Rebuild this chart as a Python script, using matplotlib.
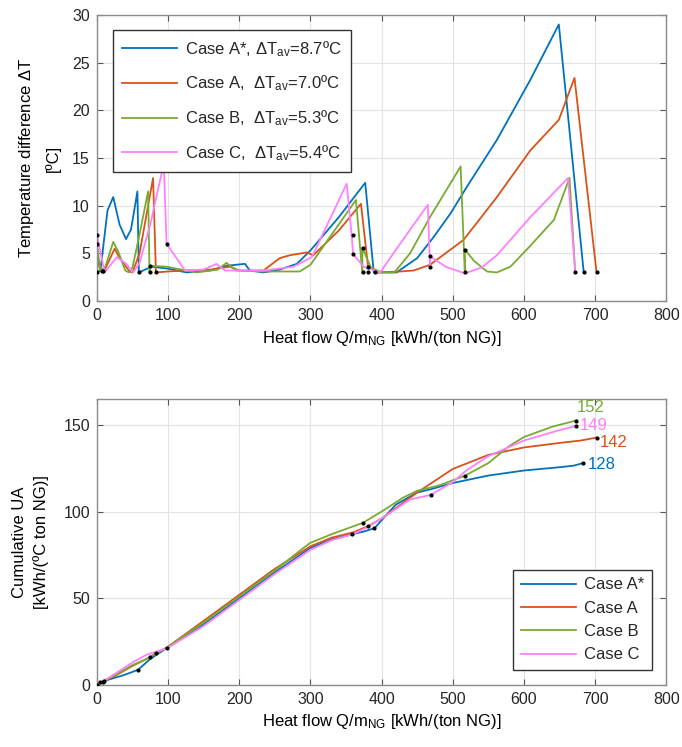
import matplotlib
matplotlib.use("Agg")
import matplotlib.pyplot as plt
from matplotlib import font_manager

# ---- data: top panel, temperature difference along the heat flow ----
dt_x = {
    "A*": [0, 5, 15, 23, 32, 41, 48, 57, 59, 77, 100, 126, 159, 182, 208, 215, 234, 257, 281, 300,
           340, 377, 389, 421, 450, 473, 497, 520, 562, 609, 649, 684],
    "A": [0, 5, 12, 25, 32, 46, 50, 60, 72, 79, 83, 100, 126, 160, 187, 200, 234, 257, 271, 295, 304,
          340, 371, 381, 395, 426, 445, 468, 515, 562, 609, 649, 671, 702],
    "B": [0, 5, 12, 23, 30, 40, 45, 50, 60, 72, 74, 75, 98, 126, 140, 170, 182, 196, 234, 285, 300,
          364, 373, 373, 385, 400, 418, 440, 468, 511, 517, 517, 530, 548, 562, 581, 609, 642, 664, 672],
    "C": [0, 11, 28, 40, 51, 60, 75, 94, 98, 124, 150, 168, 180, 234, 276, 302, 351, 358, 360, 375,
          398, 426, 465, 468, 468, 490, 517, 540, 562, 609, 662, 672],
}
dt_y = {
    "A*": [3, 3.2, 9.5, 10.9, 8, 6.5, 7.5, 11.5, 3, 3.6, 3.4, 3, 3.2, 3.7, 3.9, 3.2, 3, 3.3, 3.9, 5.3,
           8.8, 12.4, 3, 3, 4.5, 6.7, 9.2, 12, 16.9, 23.2, 29, 3],
    "A": [4.5, 3.2, 3.4, 5.5, 4.5, 3.1, 3, 5, 10, 12.9, 3, 3.1, 3.2, 3.3, 3.6, 3.2, 3.2, 4.5, 4.8, 5.1, 4.8,
          7.4, 10.2, 3.6, 3.0, 3.1, 3.2, 3.8, 6.4, 10.9, 15.8, 19, 23.4, 3],
    "B": [6, 3.2, 3.6, 6.2, 5.2, 3.2, 3, 3.5, 7, 11.5, 3, 3.7, 3.6, 3.2, 3.0, 3.3, 4.0, 3.2, 3.1, 3.1, 3.8,
          10.6, 2.9, 5.6, 3.5, 3.0, 3.0, 5.0, 8.8, 14.1, 2.9, 5.4, 4.2, 3.1, 3.0, 3.6, 5.8, 8.5, 12.9, 3],
    "C": [6.9, 3, 4.6, 4, 3, 4, 8, 14.4, 6, 3.2, 3.3, 3.9, 3.2, 3.2, 3.6, 4.6, 12.3, 6.9, 4.9, 3.6,
          3.0, 6.0, 10.1, 3.6, 4.7, 3.6, 2.9, 3.5, 4.8, 8.8, 12.9, 3],
}
dt_dots_x = [0, 0, 0, 6.6, 8.4, 59, 74, 74, 83, 98, 360, 360, 373.6, 373.6, 381.6, 381.6, 391,
             468, 468, 516.6, 516.6, 672, 684, 702]
dt_dots_y = [6.9, 6.0, 3, 3.2, 3.1, 3, 3, 3.7, 3, 6.0, 6.9, 4.9, 5.6, 3, 3.6, 3, 3,
             4.7, 3.6, 5.4, 3, 3, 3, 3]

# ---- data: bottom panel, cumulative UA ----
ua_x = {
    "A*": [0, 5, 8, 10, 20, 40, 58, 75, 98, 150, 200, 250, 300, 330, 359, 375, 390, 400, 420, 450,
           470, 500, 550, 600, 650, 670, 683],
    "A": [0, 10, 20, 50, 74.5, 98, 150, 200, 250, 300, 330, 360, 381.6, 400, 450, 500, 550, 600, 650, 680, 702],
    "B": [0, 10, 20, 50, 70, 82.5, 98, 150, 200, 250, 290, 300, 330, 350, 373.7, 400, 430, 450, 480,
          516.6, 550, 580, 600, 640, 673],
    "C": [0, 10, 20, 50, 70, 90, 98, 150, 200, 250, 300, 330, 360, 380, 400, 440, 469, 500, 520, 550,
          600, 650, 673],
}
ua_y = {
    "A*": [0, 1.5, 2, 2.3, 3.5, 6, 8.8, 15, 21.3, 35, 50, 65, 79, 84, 87, 88.5, 90.4, 95, 104, 111,
           113, 116.5, 120.8, 123.7, 125.6, 126.5, 128],
    "A": [0, 2.5, 4, 11, 16, 21.5, 37, 52, 67, 80, 85, 88, 91.7, 96, 111, 124.6, 132.7, 137, 139.6, 141, 142.7],
    "B": [0, 2.5, 4.5, 11.5, 15, 18.3, 21.5, 36, 51, 66, 79, 82, 87, 90, 93.5, 100, 108, 112, 115,
          120.6, 128, 138, 143, 149, 152.5],
    "C": [0, 2.5, 5, 13, 17.5, 20, 21, 34, 49, 64, 78, 83.5, 87, 91, 96, 107, 109.6, 117, 124, 132,
          141, 147, 149.4],
}
ua_dots_x = [0, 5, 8, 10, 58, 74.5, 82.5, 98, 359, 373.7, 381.6, 390, 469, 516.6, 673, 673, 683, 702]
ua_dots_y = [0, 1.5, 2, 2.3, 8.8, 16, 18.3, 21.3, 87, 93.5, 91.7, 90.4, 109.6, 120.6, 152.5, 149.4, 128, 142.7]

cases = ["A*", "A", "B", "C"]
dt_av = ["8.7", "7.0", "5.3", "5.4"]
end_labels = ["128", "142", "152", "149"]
end_label_x = [690, 707, 674, 679]
end_label_y = [127, 139.8, 159.8, 149.6]
colors = ["#0072BD", "#D95319", "#77AC30", "#FF80FF"]

# ---- fonts ----
names = {f.name for f in font_manager.fontManager.ttflist}
fam = "Liberation Sans Narrow" if "Liberation Sans Narrow" in names else "Liberation Sans"
plt.rcParams["font.family"] = [fam, "DejaVu Sans"]
plt.rcParams["mathtext.fontset"] = "custom"
plt.rcParams["mathtext.rm"] = fam
plt.rcParams["mathtext.it"] = fam
plt.rcParams["text.color"] = "#262626"

fig = plt.figure(figsize=(6.82, 7.47), dpi=100)
ax1 = fig.add_axes([0.142, 0.597, 0.835, 0.383])
ax2 = fig.add_axes([0.142, 0.083, 0.835, 0.383])


def style(ax):
    ax.grid(True, color="#e3e3e3", lw=0.8)
    ax.set_axisbelow(True)
    for s in ax.spines.values():
        s.set_color("#8c8c8c")
        s.set_linewidth(1.0)
    ax.tick_params(direction="in", top=True, right=True, length=4, color="#555555",
                   labelsize=11.5, labelcolor="#262626", pad=5)
    ax.set_xlim(0, 800)
    ax.set_xticks(range(0, 801, 100))
    ax.set_xlabel("Heat flow Q/m$_{\\rm NG}$ [kWh/(ton NG)]", fontsize=12, labelpad=4)


for i, c in enumerate(cases):
    ax1.plot(dt_x[c], dt_y[c], color=colors[i], lw=1.3,
             label="Case %s,%s$\\Delta$T$_{\\rm av}$=%sºC" % (c, " " if c == "A*" else "  ", dt_av[i]))
ax1.plot(dt_dots_x, dt_dots_y, "k.", ms=4, zorder=5)
style(ax1)
ax1.set_ylim(0, 30)
ax1.set_yticks(range(0, 31, 5))
ax1.set_ylabel("Temperature difference $\\Delta$T\n[ºC]", fontsize=12, labelpad=8, linespacing=1.7)
ax1.legend(loc="upper left", bbox_to_anchor=(0.028, 0.948), borderaxespad=0, fontsize=12,
           handlelength=3.3, labelspacing=0.9, fancybox=False, edgecolor="#333333",
           framealpha=1, borderpad=0.55, handletextpad=0.5)

for i, c in enumerate(cases):
    ax2.plot(ua_x[c], ua_y[c], color=colors[i], lw=1.3, label="Case " + c)
    ax2.text(end_label_x[i], end_label_y[i], end_labels[i], color=colors[i], fontsize=12,
             va="center", ha="left")
ax2.plot(ua_dots_x, ua_dots_y, "k.", ms=4, zorder=5)
style(ax2)
ax2.set_ylim(0, 165)
ax2.set_yticks([0, 50, 100, 150])
ax2.set_ylabel("Cumulative UA\n[kWh/(ºC ton NG)]", fontsize=12, labelpad=10, linespacing=1.5)
ax2.legend(loc="upper left", bbox_to_anchor=(0.731, 0.402), borderaxespad=0, fontsize=12,
           handlelength=3.3, labelspacing=0.5, fancybox=False, edgecolor="#333333",
           framealpha=1, borderpad=0.45, handletextpad=0.5)

fig.savefig("out.png", dpi=100)
